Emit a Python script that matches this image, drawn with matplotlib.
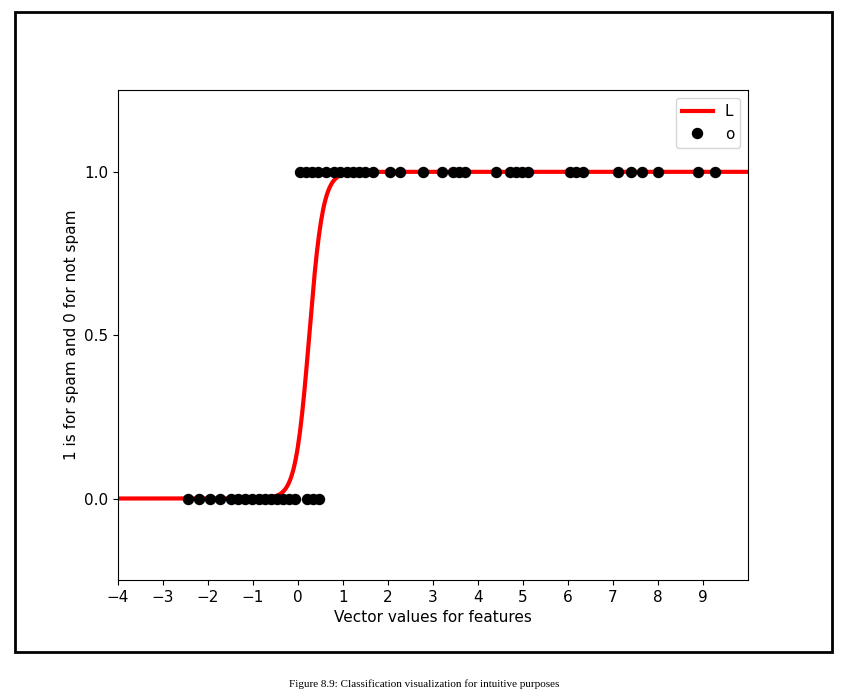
import matplotlib.pyplot as plt
import numpy as np
from matplotlib.patches import Rectangle

# points labelled 0 (not spam) and 1 (spam)
x_zero = [-2.44, -2.2, -1.96, -1.73, -1.5, -1.33, -1.18, -1.02, -0.87, -0.73,
          -0.6, -0.47, -0.33, -0.2, -0.07, 0.2, 0.33, 0.47]
x_one = [0.04, 0.18, 0.31, 0.44, 0.62, 0.8, 0.93, 1.09, 1.22, 1.36, 1.49, 1.67,
         2.04, 2.27, 2.78, 3.2, 3.44, 3.58, 3.71, 4.4, 4.71, 4.84, 4.98, 5.11,
         6.04, 6.18, 6.33, 7.11, 7.4, 7.64, 8.0, 8.89, 9.27]

# fitted logistic model
coef = 6.6
intercept = -1.65

xticks = list(range(-4, 10))
yticks = [0.0, 0.5, 1.0]

fig = plt.figure(figsize=(8.49, 6.99), dpi=100)

# page frame around the chart
fig.patches.append(Rectangle((0.0177, 0.0672), 0.9623, 0.9158, transform=fig.transFigure,
                             fill=False, edgecolor='black', linewidth=2))

ax = fig.add_axes([0.139, 0.170, 0.742, 0.701])

xs = np.linspace(-4, 10, 600)
ax.plot(xs, 1 / (1 + np.exp(-(coef * xs + intercept))), color='red', linewidth=3, label='L')

xp = x_zero + x_one
yp = [0] * len(x_zero) + [1] * len(x_one)
ax.plot(xp, yp, 'o', color='black', markersize=7.2, linestyle='none', label='o')

ax.set_xlim(-4, 10)
ax.set_ylim(-0.25, 1.25)
ax.set_xticks(xticks)
ax.set_yticks(yticks)
ax.set_xlabel('Vector values for features', fontsize=11)
ax.set_ylabel('1 is for spam and 0 for not spam', fontsize=11)
ax.tick_params(labelsize=11)
ax.legend(loc='upper right', fontsize=11)

fig.text(0.5, 0.021, 'Figure 8.9: Classification visualization for intuitive purposes',
         ha='center', va='center', fontsize=8, family='Liberation Serif')

fig.savefig('out.png', dpi=100)
